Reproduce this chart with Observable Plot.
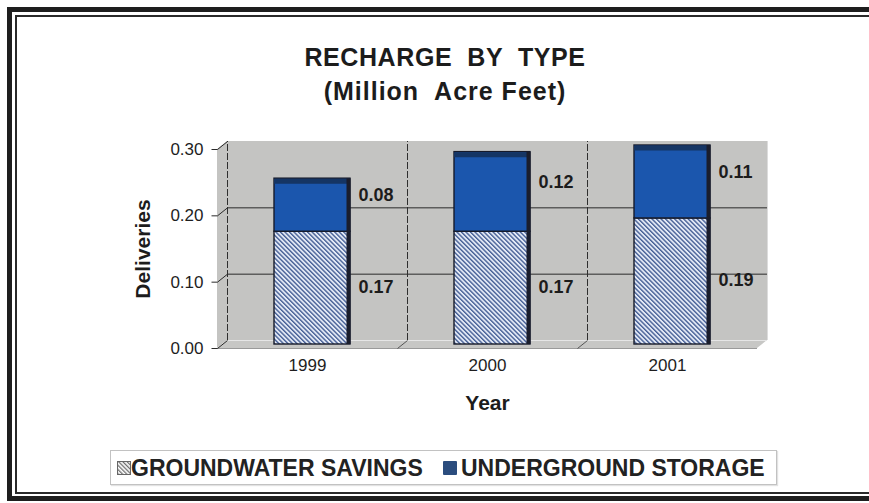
<!DOCTYPE html>
<html>
<head>
<meta charset="utf-8">
<script src="https://cdn.jsdelivr.net/npm/d3@7"></script>
<script src="https://cdn.jsdelivr.net/npm/@observablehq/plot@0.6"></script>
<style>
  html, body { margin: 0; padding: 0; background: #fff; }
  body { width: 869px; height: 503px; position: relative; overflow: hidden;
         font-family: "Liberation Sans", Arial, sans-serif; color: #1c1c1c; }
  .frame-outer { position: absolute; left: 7px; top: 7px; right: -30px; bottom: 2px;
                 border: 5px solid #1e1e1e; }
  .frame-inner { position: absolute; left: 15px; top: 15px; right: -30px; bottom: 9px;
                 border: 2px solid #2a2a2a; }
  .title, .subtitle { position: absolute; left: 0; width: 890px; text-align: center;
                      font-weight: bold; white-space: pre; line-height: 30px; }
  .title { top: 42px; font-size: 25px; letter-spacing: 0.6px; }
  .subtitle { top: 76px; font-size: 25px; letter-spacing: 1px; }
  #chart { position: absolute; left: 0; top: 120px; }
  .legend { position: absolute; left: 110px; top: 450px; width: 667px; height: 35px;
            box-sizing: border-box; border: 1.5px solid #c2c2c2;
            box-shadow: 1px 1px 1px #e2e2e2; }
  .legend .sw { position: absolute; top: 10px; width: 14px; height: 14px; }
  .legend .lab { position: absolute; top: 2px; font-size: 23px; font-weight: bold;
                 line-height: 30px; white-space: pre; color: #222; }
</style>
</head>
<body>
<div class="frame-outer"></div>
<div class="frame-inner"></div>
<div class="title">RECHARGE  BY  TYPE</div>
<div class="subtitle">(Million  Acre Feet)</div>
<div id="chart"></div>
<div class="legend" id="legend"></div>
<script>
// Recharge by type, million acre feet
const years = ["1999", "2000", "2001"];
const savings = [0.17, 0.17, 0.19];   // groundwater savings
const storage = [0.08, 0.12, 0.11];   // underground storage
const yTicks = [0, 0.1, 0.2, 0.3];
const seriesNames = ["GROUNDWATER SAVINGS", "UNDERGROUND STORAGE"];

const W = 869, H = 300;
const M = {top: 29, right: 112, bottom: 72, left: 217};
const yMax = 0.3;

// pseudo-3D depth of the box (pixels) and the matching data-unit offsets
const DEPTH_X = 10, DEPTH_Y = 8;
const pxPerX = (W - M.left - M.right) / years.length;
const pxPerY = (H - M.top - M.bottom) / yMax;
const du = DEPTH_X / pxPerX, ev = DEPTH_Y / pxPerY;
const halfBar = 38 / pxPerX;
const stub = 6 / pxPerX;

const wall = "#c4c4c2";
const blue = "#1b56ad";

// stacked segments
const rows = years.flatMap((year, i) => [
  {year, i, series: 0, value: savings[i], y1: 0, y2: savings[i]},
  {year, i, series: 1, value: storage[i], y1: savings[i], y2: savings[i] + storage[i]}
]);
const tops = years.map((year, i) => ({i, total: savings[i] + storage[i]}));
const bx1 = d => d.i + 0.5 - halfBar;
const bx2 = d => d.i + 0.5 + halfBar;

const inner = yTicks.filter(v => v > 0 && v < yMax);

const chart = Plot.plot({
  width: W, height: H,
  marginTop: M.top, marginRight: M.right, marginBottom: M.bottom, marginLeft: M.left,
  x: {domain: [0, years.length], axis: null},
  y: {domain: [0, yMax], axis: null},
  style: {fontFamily: "'Liberation Sans', Arial, sans-serif", color: "#1c1c1c", background: "transparent"},
  marks: [
    // back wall, left wall and floor
    Plot.rect([0], {x1: 0, x2: years.length, y1: 0, y2: yMax, dx: DEPTH_X, dy: -DEPTH_Y, fill: wall}),
    Plot.area([{x1: 0, y1: 0, x2: du, y2: ev}, {x1: 0, y1: yMax, x2: du, y2: yMax + ev}],
      {x1: "x1", y1: "y1", x2: "x2", y2: "y2", fill: wall}),
    Plot.area([{x1: 0, y1: 0, x2: du, y2: ev}, {x1: years.length, y1: 0, x2: years.length + du, y2: ev}],
      {x1: "x1", y1: "y1", x2: "x2", y2: "y2", fill: "#c7c7c5"}),
    // wall edges
    Plot.ruleY([0], {x1: 0, x2: years.length, stroke: "#9a9a9a", strokeWidth: 1}),
    Plot.ruleY([0], {x1: 0, x2: years.length, dx: DEPTH_X, dy: -DEPTH_Y, stroke: "#e6e6e6", strokeWidth: 1}),
    Plot.ruleX([years.length], {y1: 0, y2: yMax, dx: DEPTH_X, dy: -DEPTH_Y, stroke: "#dcdcdc"}),
    // gridlines on the back wall
    Plot.ruleY(inner, {x1: 0, x2: years.length, dx: DEPTH_X, dy: -DEPTH_Y, stroke: "#2a2a2a", strokeWidth: 1}),
    Plot.ruleX([0, 1, 2], {y1: 0, y2: yMax, dx: DEPTH_X, dy: -DEPTH_Y, stroke: "#2e2e2e", strokeWidth: 1, strokeDasharray: "7,2"}),
    // category dividers across the floor
    Plot.link([1, 2], {x1: d => d, y1: 0, x2: d => d + du, y2: ev, stroke: "#555", strokeWidth: 1}),
    // y ticks running onto the left wall
    Plot.link(yTicks, {x1: 0, y1: d => d, x2: du, y2: d => d + ev, stroke: "#2a2a2a", strokeWidth: 1}),
    Plot.link(yTicks, {x1: -stub, y1: d => d, x2: 0, y2: d => d, stroke: "#2a2a2a", strokeWidth: 1}),
    Plot.text(yTicks, {x: 0, y: d => d, dx: -14, text: d => d.toFixed(2), textAnchor: "end", fontSize: 17, fill: "#1e1e1e"}),
    // bars
    Plot.rect(rows.filter(d => d.series === 0), {x1: bx1, x2: bx2, y1: "y1", y2: "y2", dx: 5, dy: -4,
      fill: "url(#hatch)", stroke: "#161a2a", strokeWidth: 1.4}),
    Plot.rect(rows.filter(d => d.series === 1), {x1: bx1, x2: bx2, y1: "y1", y2: "y2", dx: 5, dy: -4,
      fill: blue, stroke: "#161a2a", strokeWidth: 1.4}),
    // bar top and side faces
    Plot.ruleY(tops, {x1: bx1, x2: bx2, y: "total", dx: 5, dy: -4 + 2.5, stroke: "#153564", strokeWidth: 5}),
    Plot.ruleX(tops, {x: bx2, y1: 0, y2: "total", dx: 5 - 2, dy: -4, stroke: "#1a1d2c", strokeWidth: 4}),
    // value labels
    Plot.text(rows.filter(d => d.series === 1), {x: bx2, y: d => (d.y1 + d.y2) / 2, dx: 13, dy: -14,
      text: d => d.value.toFixed(2), textAnchor: "start", fontSize: 18, fontWeight: "bold", fill: "#1c1c1c"}),
    Plot.text(rows.filter(d => d.series === 0), {x: bx2, y: d => (d.y1 + d.y2) / 2, dx: 13, dy: -5,
      text: d => d.value.toFixed(2), textAnchor: "start", fontSize: 18, fontWeight: "bold", fill: "#1c1c1c"}),
    // category labels and axis titles
    Plot.text(years, {x: (d, i) => i + 0.5, y: 0, dy: 17, text: d => d, fontSize: 17, fill: "#1e1e1e"}),
    Plot.text(["Year"], {x: years.length / 2, y: 0, dy: 55, text: d => d, fontSize: 21, fontWeight: "bold", fill: "#1c1c1c"}),
    Plot.text(["Deliveries"], {x: 0, y: yMax / 2, dx: -74, rotate: -90, text: d => d, fontSize: 21, fontWeight: "bold", fill: "#1c1c1c"})
  ]
});

// diagonal hatch used by the groundwater savings segments
d3.select(chart).insert("defs", ":first-child").html(`
  <pattern id="hatch" patternUnits="userSpaceOnUse" width="3.2" height="10" patternTransform="rotate(-45)">
    <rect width="3.2" height="10" fill="#e4eaf6"></rect>
    <line x1="0.7" y1="0" x2="0.7" y2="10" stroke="#34508c" stroke-width="1.25"></line>
  </pattern>`);
document.getElementById("chart").appendChild(chart);

// legend
const legend = d3.select("#legend");
const sw1 = legend.append("svg").attr("class", "sw").style("left", "6px")
  .attr("width", 14).attr("height", 14);
sw1.append("defs").html(`
  <pattern id="hatchKey" patternUnits="userSpaceOnUse" width="3" height="10" patternTransform="rotate(-45)">
    <rect width="3" height="10" fill="#ffffff"></rect>
    <line x1="0.7" y1="0" x2="0.7" y2="10" stroke="#555" stroke-width="1.1"></line>
  </pattern>`);
sw1.append("rect").attr("x", 0.5).attr("y", 0.5).attr("width", 13).attr("height", 13)
  .attr("fill", "url(#hatchKey)").attr("stroke", "#666").attr("stroke-width", 1);
legend.append("div").attr("class", "lab").style("left", "20px").text(seriesNames[0]);
legend.append("div").attr("class", "sw").style("left", "332px")
  .style("background", "#2b4d7e").style("border-radius", "1px");
legend.append("div").attr("class", "lab").style("left", "350px").text(seriesNames[1]);
</script>
</body>
</html>
